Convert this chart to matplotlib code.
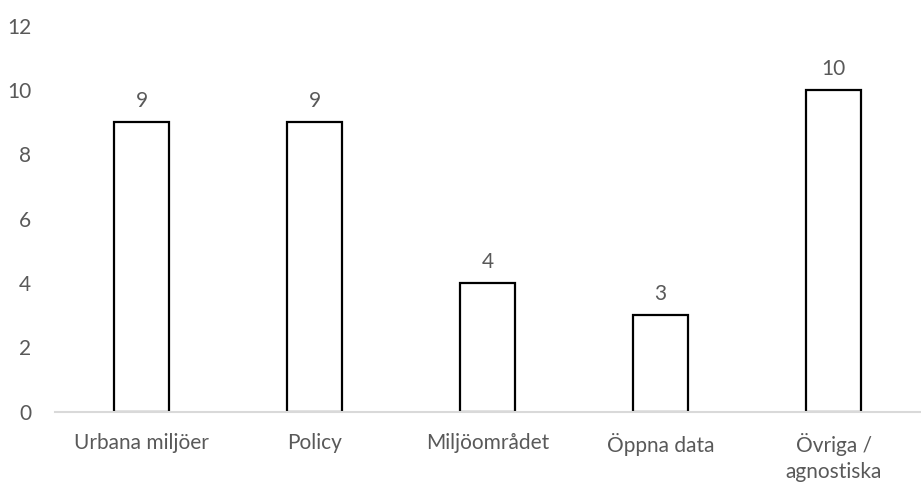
import matplotlib.pyplot as plt
import numpy as np

categories = ["Urbana miljöer", "Policy", "Miljöområdet", "Öppna data", "Övriga /\nagnostiska"]
values = [9, 9, 4, 3, 10]
yticks = [0, 2, 4, 6, 8, 10, 12]

plt.rcParams['font.family'] = ['Lato', 'DejaVu Sans']
gray = '#595959'
fs = 15

fig = plt.figure(figsize=(9.21, 4.95), dpi=100)
ax = fig.add_axes([0.0597, 0.1683, 0.9393, 0.78])

x = np.arange(len(categories))
bars = ax.bar(x, values, width=0.32, color='white', edgecolor='black', linewidth=1.6, zorder=2)

for rect, v in zip(bars, values):
    ax.annotate(str(v), (rect.get_x() + rect.get_width() / 2, v),
                xytext=(0, 8), textcoords='offset points',
                ha='center', va='bottom', fontsize=fs, color=gray)

ax.set_xlim(-0.5, len(categories) - 0.5)
ax.set_ylim(0, 12)
ax.set_yticks(yticks)
ax.set_xticks(x)
ax.set_xticklabels(categories, fontsize=fs, color=gray, linespacing=1.4)
ax.tick_params(axis='y', labelsize=fs, labelcolor=gray, length=0, pad=17)
ax.tick_params(axis='x', length=0, pad=15)

for side in ['top', 'right', 'left']:
    ax.spines[side].set_visible(False)
ax.spines['bottom'].set_color('#d9d9d9')
ax.spines['bottom'].set_linewidth(1.5)
ax.spines['bottom'].set_zorder(3)

fig.savefig('out.png', dpi=100)
